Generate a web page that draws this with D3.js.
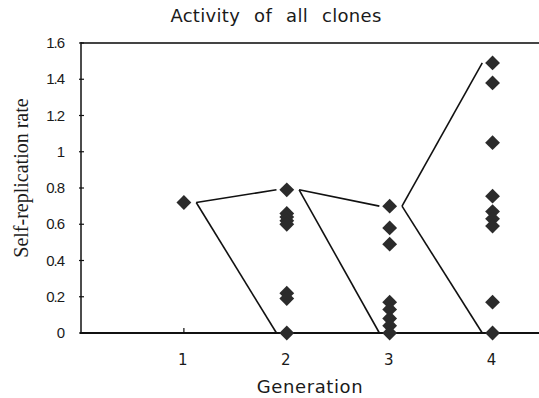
<!DOCTYPE html>
<html>
<head>
<meta charset="utf-8">
<script src="https://cdn.jsdelivr.net/npm/d3@7/dist/d3.min.js"></script>
<style>
  body { margin: 0; background: #fff; }
  svg { display: block; }
</style>
</head>
<body>
<svg id="chart"></svg>
<script>
// values
var generations = [1, 2, 3, 4];
var gen1 = [0.72];
var gen2 = [0.79, 0.66, 0.64, 0.62, 0.60, 0.22, 0.19, 0];
var gen3 = [0.70, 0.58, 0.49, 0.17, 0.13, 0.08, 0.04, 0];
var gen4 = [1.49, 1.38, 1.05, 0.755, 0.67, 0.63, 0.59, 0.17, 0];
var yTicks = [0, 0.2, 0.4, 0.6, 0.8, 1, 1.2, 1.4, 1.6];
var yTickLabels = ["0", "0.2", "0.4", "0.6", "0.8", "1", "1.2", "1.4", "1.6"];
// which clone each generation came from
var parents = [
    { gen: 1, value: 0.72 },
    { gen: 2, value: 0.79 },
    { gen: 3, value: 0.70 }
];

var allGens = [gen1, gen2, gen3, gen4];
var points = [];
allGens.forEach(function (vals, i) {
    vals.forEach(function (v) {
        points.push({ gen: generations[i], value: v });
    });
});

var width = 539, height = 398;
var svg = d3.select('svg#chart')
    .attr('width', width)
    .attr('height', height);

var x = d3.scaleLinear().domain([0, 4.5]).range([81, 544]);
var y = d3.scaleLinear().domain([0, 1.6]).range([333, 43]);

// frame
svg.append('line')
    .attr('x1', x(0)).attr('x2', width)
    .attr('y1', y(1.6)).attr('y2', y(1.6))
    .attr('stroke', '#444').attr('stroke-width', 2);
svg.append('line')
    .attr('x1', x(0)).attr('x2', x(0))
    .attr('y1', y(1.6) - 1).attr('y2', y(0))
    .attr('stroke', '#111').attr('stroke-width', 1.5);
svg.append('line')
    .attr('x1', x(0) - 1).attr('x2', width)
    .attr('y1', y(0)).attr('y2', y(0))
    .attr('stroke', '#111').attr('stroke-width', 1.8);

// y ticks
svg.selectAll('.ytick')
    .data(yTicks)
    .enter()
    .append('line')
    .attr('class', 'ytick')
    .attr('x1', x(0) - 2).attr('x2', x(0) + 3)
    .attr('y1', function (d) { return y(d); })
    .attr('y2', function (d) { return y(d); })
    .attr('stroke', '#111').attr('stroke-width', 1.2);

svg.selectAll('.ylabel')
    .data(yTicks)
    .enter()
    .append('text')
    .attr('class', 'ylabel')
    .attr('x', 64)
    .attr('y', function (d) { return y(d) + 5; })
    .attr('text-anchor', 'end')
    .style('font-family', 'Liberation Sans, Arial, sans-serif')
    .style('font-size', '15px')
    .style('letter-spacing', '-1px')
    .attr('fill', '#1a1a1a')
    .text(function (d, i) { return yTickLabels[i]; });

// x ticks
svg.selectAll('.xtick')
    .data(generations)
    .enter()
    .append('line')
    .attr('class', 'xtick')
    .attr('x1', function (d) { return x(d); })
    .attr('x2', function (d) { return x(d); })
    .attr('y1', y(0)).attr('y2', y(0) - 5)
    .attr('stroke', '#111').attr('stroke-width', 1.2);

svg.selectAll('.xlabel')
    .data(generations)
    .enter()
    .append('text')
    .attr('class', 'xlabel')
    .attr('x', function (d) { return x(d) - 1; })
    .attr('y', 365)
    .attr('text-anchor', 'middle')
    .style('font-family', 'DejaVu Sans, sans-serif')
    .style('font-size', '15px')
    .attr('fill', '#1a1a1a')
    .text(function (d) { return d; });

// lineage lines: from parent clone to best and worst child
var startOff = 0.12, endOff = 0.1;
var segs = [];
parents.forEach(function (p) {
    var kids = allGens[p.gen];
    [d3.max(kids), d3.min(kids)].forEach(function (k) {
        segs.push({ x1: p.gen + startOff, y1: p.value, x2: p.gen + 1 - endOff, y2: k });
    });
});
svg.selectAll('.lineage')
    .data(segs)
    .enter()
    .append('line')
    .attr('class', 'lineage')
    .attr('x1', function (d) { return x(d.x1); })
    .attr('y1', function (d) { return y(d.y1); })
    .attr('x2', function (d) { return x(d.x2); })
    .attr('y2', function (d) { return y(d.y2); })
    .attr('stroke', '#111')
    .attr('stroke-width', 1.6);

// diamonds
var diamond = d3.symbol().type(d3.symbolSquare).size(110);
svg.selectAll('.pt')
    .data(points)
    .enter()
    .append('path')
    .attr('class', 'pt')
    .attr('d', diamond)
    .attr('transform', function (d) {
        return 'translate(' + x(d.gen) + ',' + y(d.value) + ') rotate(45)';
    })
    .attr('fill', '#2b2b2b');

// titles
svg.append('text')
    .attr('x', 276).attr('y', 22)
    .attr('text-anchor', 'middle')
    .style('font-family', 'DejaVu Sans, sans-serif')
    .style('font-size', '18px')
    .style('letter-spacing', '0.3px')
    .style('word-spacing', '8px')
    .attr('fill', '#1a1a1a')
    .text('Activity of all clones');

svg.append('text')
    .attr('x', 310).attr('y', 393)
    .attr('text-anchor', 'middle')
    .style('font-family', 'DejaVu Sans, sans-serif')
    .style('font-size', '18px')
    .style('letter-spacing', '0.6px')
    .attr('fill', '#1a1a1a')
    .text('Generation');

svg.append('text')
    .attr('transform', 'translate(28,178) rotate(-90)')
    .attr('text-anchor', 'middle')
    .style('font-family', 'Liberation Serif, Times New Roman, serif')
    .style('font-size', '20px')
    .attr('fill', '#1a1a1a')
    .text('Self-replication rate');
</script>
</body>
</html>
